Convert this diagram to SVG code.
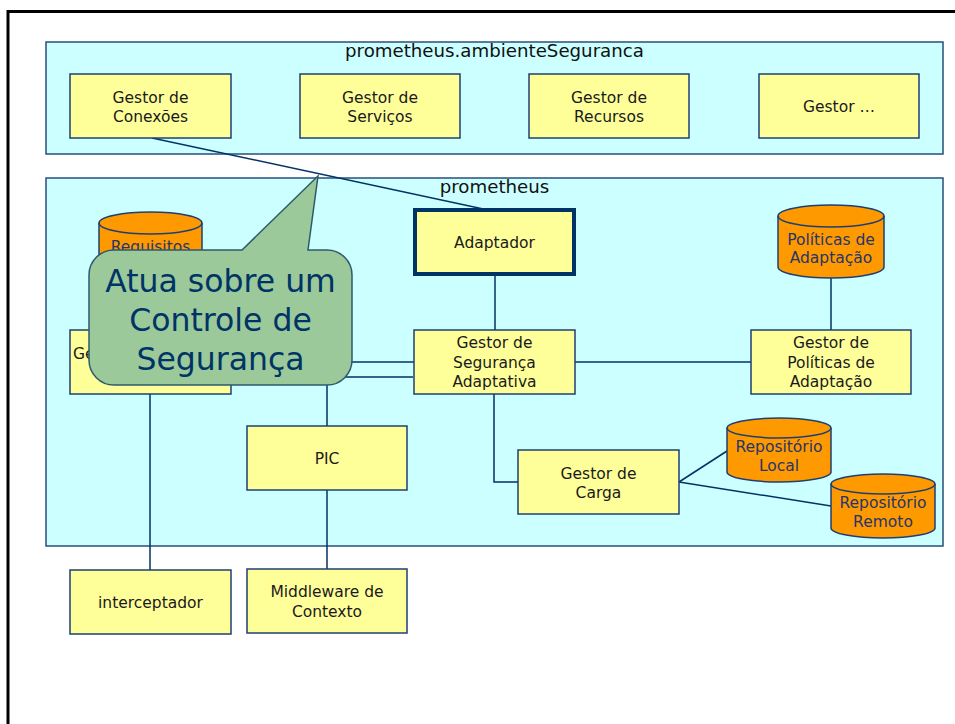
<svg xmlns="http://www.w3.org/2000/svg" width="955" height="724" viewBox="0 0 955 724">
<defs>
<style>
.frame{fill:#fff;stroke:#000;stroke-width:3}
.cont{fill:#CCFFFF;stroke:#2A4F7A;stroke-width:1.5}
.box{fill:#FFFF99;stroke:#1F3F73;stroke-width:1.5}
.thick{fill:#FFFF99;stroke:#003366;stroke-width:4}
.cyl{fill:#FF9900;stroke:#1F3F73;stroke-width:1.5}
.cylf{fill:none;stroke:#1F3F73;stroke-width:1.5}
.conn{fill:none;stroke:#003366;stroke-width:1.5}
text{font-family:"DejaVu Sans",Verdana,sans-serif}
.t{font-size:15.5px;fill:#1a1a1a;text-anchor:middle}
.ct{font-size:15.5px;fill:#26366B;text-anchor:middle}
.title{font-size:18.2px;fill:#111;text-anchor:middle}
.call{fill:#9BC99A;stroke:#2E5A6E;stroke-width:1.5}
.callt{font-size:31.5px;fill:#003366;text-anchor:middle}
</style>
</defs>
<rect width="955" height="724" fill="#fff"/>
<rect class="frame" x="8" y="11.5" width="970" height="740"/>

<g id="ambienteSeguranca">
<rect class="cont" x="46" y="42" width="897" height="112"/>
<text class="title" x="494.5" y="57">prometheus.ambienteSeguranca</text>
</g>
<g id="prometheus">
<rect class="cont" x="46" y="178" width="897" height="368"/>
<text class="title" x="494.5" y="193">prometheus</text>
</g>

<g id="connectors">
<line class="conn" x1="152" y1="138" x2="488" y2="210"/>
<line class="conn" x1="495" y1="274" x2="495" y2="330"/>
<line class="conn" x1="575" y1="362" x2="751" y2="362"/>
<line class="conn" x1="831" y1="278" x2="831" y2="330"/>
<line class="conn" x1="231" y1="362" x2="414" y2="362"/>
<polyline class="conn" points="413,377 327,377 327,426"/>
<line class="conn" x1="327" y1="490" x2="327" y2="569"/>
<line class="conn" x1="150" y1="394" x2="150" y2="570"/>
<polyline class="conn" points="494,394 494,482 518,482"/>
<line class="conn" x1="679" y1="482" x2="727" y2="451"/>
<line class="conn" x1="679" y1="482" x2="831" y2="506"/>
</g>

<g id="gestorConexoes">
<rect class="box" x="70" y="74" width="161" height="64"/>
<text class="t" x="150.5" y="103">Gestor de</text>
<text class="t" x="150.5" y="122">Conexões</text>
</g>
<g id="gestorServicos">
<rect class="box" x="300" y="74" width="160" height="64"/>
<text class="t" x="380" y="103">Gestor de</text>
<text class="t" x="380" y="122">Serviços</text>
</g>
<g id="gestorRecursos">
<rect class="box" x="529" y="74" width="160" height="64"/>
<text class="t" x="609" y="103">Gestor de</text>
<text class="t" x="609" y="122">Recursos</text>
</g>
<g id="gestorOutros">
<rect class="box" x="759" y="74" width="160" height="64"/>
<text class="t" x="839" y="112">Gestor …</text>
</g>

<g id="adaptador">
<rect class="thick" x="415" y="210" width="159" height="64"/>
<text class="t" x="494.5" y="248">Adaptador</text>
</g>

<g id="requisitos">
<path class="cyl" d="M99,223 A51.5,11 0 0 1 202,223 V274 A51.5,11 0 0 1 99,274 Z"/>
<path class="cylf" d="M99,223 A51.5,11 0 0 0 202,223"/>
<text class="ct" x="150.5" y="252">Requisitos</text>
</g>

<g id="politicasAdaptacao">
<path class="cyl" d="M778,216 A53,11 0 0 1 884,216 V267 A53,11 0 0 1 778,267 Z"/>
<path class="cylf" d="M778,216 A53,11 0 0 0 884,216"/>
<text class="ct" x="831" y="245">Políticas de</text>
<text class="ct" x="831" y="263">Adaptação</text>
</g>

<g id="gestorEsquerda">
<rect class="box" x="70" y="330" width="161" height="64"/>
<text x="73" y="359" style="font-size:15.5px;fill:#1a1a1a">Ge</text>
</g>

<g id="gestorSegurancaAdaptativa">
<rect class="box" x="414" y="330" width="161" height="64"/>
<text class="t" x="494.5" y="348">Gestor de</text>
<text class="t" x="494.5" y="368">Segurança</text>
<text class="t" x="494.5" y="387">Adaptativa</text>
</g>

<g id="gestorPoliticas">
<rect class="box" x="751" y="330" width="160" height="64"/>
<text class="t" x="831" y="348">Gestor de</text>
<text class="t" x="831" y="368">Políticas de</text>
<text class="t" x="831" y="387">Adaptação</text>
</g>

<g id="pic">
<rect class="box" x="247" y="426" width="160" height="64"/>
<text class="t" x="327" y="464">PIC</text>
</g>

<g id="gestorCarga">
<rect class="box" x="518" y="450" width="161" height="64"/>
<text class="t" x="598.5" y="479">Gestor de</text>
<text class="t" x="598.5" y="498">Carga</text>
</g>

<g id="repositorioLocal">
<path class="cyl" d="M727,428 A52,10 0 0 1 831,428 V472 A52,10 0 0 1 727,472 Z"/>
<path class="cylf" d="M727,428 A52,10 0 0 0 831,428"/>
<text class="ct" x="779" y="452">Repositório</text>
<text class="ct" x="779" y="471">Local</text>
</g>

<g id="repositorioRemoto">
<path class="cyl" d="M831,484 A52,10 0 0 1 935,484 V528 A52,10 0 0 1 831,528 Z"/>
<path class="cylf" d="M831,484 A52,10 0 0 0 935,484"/>
<text class="ct" x="883" y="508">Repositório</text>
<text class="ct" x="883" y="527">Remoto</text>
</g>

<g id="interceptador">
<rect class="box" x="70" y="570" width="161" height="64"/>
<text class="t" x="150.5" y="608">interceptador</text>
</g>

<g id="middlewareContexto">
<rect class="box" x="247" y="569" width="160" height="64"/>
<text class="t" x="327" y="597">Middleware de</text>
<text class="t" x="327" y="617">Contexto</text>
</g>

<g id="callout">
<path class="call" d="M114,250 H242 L318,176 L308,250 H327 A25,25 0 0 1 352,275 V360 A25,25 0 0 1 327,385 H114 A25,25 0 0 1 89,360 V275 A25,25 0 0 1 114,250 Z"/>
<text class="callt" x="220.5" y="292">Atua sobre um</text>
<text class="callt" x="220.5" y="331">Controle de</text>
<text class="callt" x="220.5" y="370">Segurança</text>
</g>
</svg>
